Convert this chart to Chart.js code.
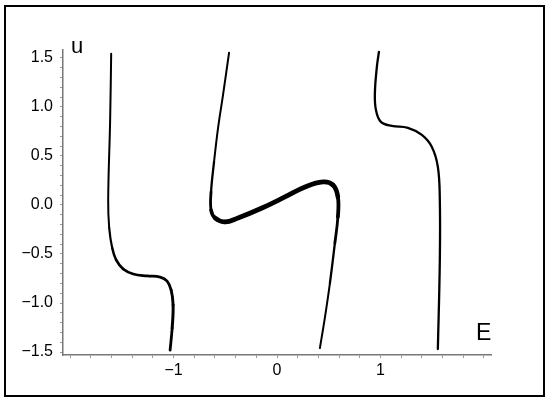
<!DOCTYPE html>
<html>
<head>
<meta charset="utf-8">
<script src="https://cdn.jsdelivr.net/npm/chart.js@4.4.1/dist/chart.umd.min.js"></script>
<style>
  html, body { margin: 0; padding: 0; background: #fff; }
  #frame { position: absolute; left: 4px; top: 5px; width: 537px; height: 388px; border: 2.5px solid #000; }
  #wrap { position: absolute; left: 0; top: 0; width: 550px; height: 404px; }
</style>
</head>
<body>
<div id="frame"></div>
<div id="wrap"><canvas id="plot" width="550" height="404"></canvas></div>
<script>
// branch points, E along x, u along y
const leftE  = [-1.604, -1.614, -1.633, -1.623, -1.594, -1.556, -1.488, -1.391, -1.256, -1.130, -1.063, -1.024, -1.005, -1.014, -1.034];
const leftU  = [ 1.541,  0.867,  0.051, -0.235, -0.439, -0.561, -0.653, -0.704, -0.724, -0.735, -0.776, -0.867, -1.020, -1.255, -1.480];

const midE   = [-0.464, -0.522, -0.570, -0.609, -0.638, -0.638, -0.599, -0.502, -0.377, -0.145, 0.077, 0.271, 0.444, 0.541, 0.589, 0.589, 0.560, 0.512, 0.464, 0.415];
const midU   = [ 1.551,  1.122,  0.786,  0.439,  0.133, -0.051, -0.133, -0.173, -0.133, -0.031, 0.082, 0.184, 0.235, 0.204, 0.082, -0.122, -0.388, -0.796, -1.143, -1.459];

const rightE = [0.986, 0.966, 0.947, 0.957, 1.005, 1.111, 1.266, 1.401, 1.498, 1.556, 1.575, 1.575, 1.556];
const rightU = [1.561, 1.408, 1.143, 0.969, 0.847, 0.806, 0.786, 0.714, 0.592, 0.388, 0.051, -0.561, -1.469];

const xTickValues = [-1, 0, 1];
const xTickLabels = ['\u22121', '0', '1'];
const yTickValues = [-1.5, -1.0, -0.5, 0.0, 0.5, 1.0, 1.5];
const yTickLabels = ['\u22121.5', '\u22121.0', '\u22120.5', '0.0', '0.5', '1.0', '1.5'];

function toPoints(es, us) {
    return es.map((e, i) => ({ x: e, y: us[i] }));
}

// line width for each segment of a branch, by start point index
function widthBy(widths, base) {
    return ctx => widths[ctx.p0DataIndex] || base;
}

function minorTicks(min, max, step) {
    const out = [];
    for (let v = Math.ceil(min / step) * step; v <= max + 1e-9; v += step) {
        out.push({ value: Math.round(v * 100) / 100 });
    }
    return out;
}

function labelFor(values, labels, v) {
    for (let i = 0; i < values.length; i++) {
        if (Math.abs(values[i] - v) < 1e-6) return labels[i];
    }
    return '';
}

const axisTitles = {
    id: 'axisTitles',
    afterDraw(chart) {
        const c = chart.ctx;
        c.save();
        c.fillStyle = '#000';
        c.font = '22px "Liberation Sans", Arial, sans-serif';
        c.textBaseline = 'alphabetic';
        c.fillText('u', 71, 53);
        c.font = '23px "Liberation Sans", Arial, sans-serif';
        c.fillText('E', 476, 340);
        c.restore();
    }
};

const ctx = document.getElementById('plot').getContext('2d');

const lineStyle = {
    showLine: true,
    pointRadius: 0,
    borderColor: '#000',
    borderCapStyle: 'round',
    borderJoinStyle: 'round',
    tension: 0.4,
    fill: false
};

const tickFont = { family: '"Liberation Sans", Arial, sans-serif', size: 16 };

new Chart(ctx, {
    type: 'scatter',
    data: {
        datasets: [
            Object.assign({ data: toPoints(leftE, leftU), borderWidth: 2,
                segment: { borderWidth: widthBy([2, 2, 2, 2.2, 2.5, 2.7, 2.8, 2.8, 2.8, 2.8, 2.8, 2.9, 3, 2.8], 2) } }, lineStyle),
            Object.assign({ data: toPoints(midE, midU), borderWidth: 2,
                segment: { borderWidth: widthBy([2, 2, 2, 2.3, 2.8, 3.6, 4.5, 4.8, 4.8, 4.8, 4.8, 4.8, 4.8, 4.6, 3.8, 2.8, 2.3, 2, 2], 2) } }, lineStyle),
            Object.assign({ data: toPoints(rightE, rightU), borderWidth: 2.3 }, lineStyle)
        ]
    },
    options: {
        responsive: false,
        animation: false,
        layout: { padding: { left: 13, right: 59, top: 50, bottom: 19 } },
        plugins: { legend: { display: false }, tooltip: { enabled: false } },
        scales: {
            x: {
                type: 'linear',
                min: -2.07,
                max: 2.07,
                afterBuildTicks: axis => { axis.ticks = minorTicks(-2.0, 2.0, 0.2); },
                afterFit: s => { s.height = 30; },
                grid: { drawOnChartArea: false, color: '#999', tickLength: 3 },
                border: { color: '#777', width: 1.5 },
                ticks: {
                    autoSkip: false,
                    maxRotation: 0,
                    padding: 3,
                    color: '#000',
                    font: tickFont,
                    callback: v => labelFor(xTickValues, xTickLabels, v)
                }
            },
            y: {
                type: 'linear',
                min: -1.53,
                max: 1.58,
                afterBuildTicks: axis => { axis.ticks = minorTicks(-1.5, 1.5, 0.1); },
                afterFit: s => { s.width = 50; },
                grid: { drawOnChartArea: false, color: '#999', tickLength: 3 },
                border: { color: '#777', width: 1.5 },
                ticks: {
                    autoSkip: false,
                    padding: 7,
                    color: '#000',
                    font: tickFont,
                    callback: v => labelFor(yTickValues, yTickLabels, v)
                }
            }
        }
    },
    plugins: [axisTitles]
});
</script>
</body>
</html>
